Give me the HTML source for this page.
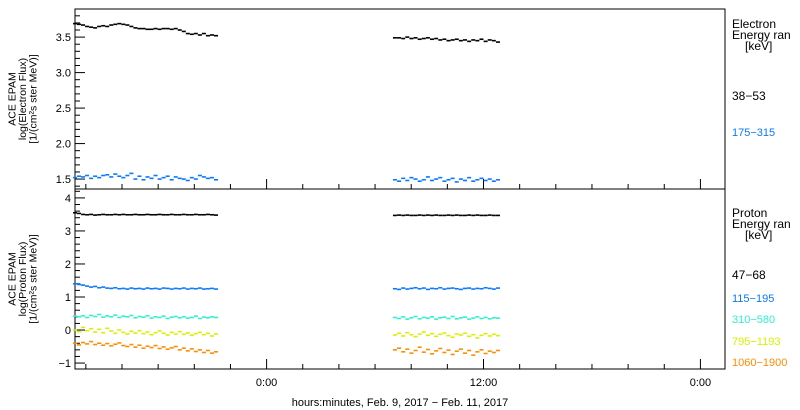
<!DOCTYPE html>
<html><head><meta charset="utf-8"><style>
body{margin:0;background:#fff;}
svg{display:block;font-family:"Liberation Sans",sans-serif;}
</style></head><body>
<svg id="chart" width="800" height="410" viewBox="0 0 800 410"></svg>
<script>
// time in hours relative to Feb 10 0:00
const xDomain = [-10.6, 25.36];
const seg1Range = [-10.6, -2.8];
const seg2Range = [7.1, 12.8];
const xTickHours = [0, 12, 24];
const xTickLabels = ["0:00", "12:00", "0:00"];
const topTicks = [1.5, 2.0, 2.5, 3.0, 3.5];
const topTickLabels = ["1.5", "2.0", "2.5", "3.0", "3.5"];
const botTicks = [-1, 0, 1, 2, 3, 4];
const botTickLabels = ["\u22121", "0", "1", "2", "3", "4"];

const e1s1 = [3.69,3.68,3.67,3.65,3.64,3.63,3.65,3.66,3.65,3.67,3.68,3.69,3.68,3.67,3.65,3.63,3.62,3.62,3.61,3.61,3.62,3.61,3.62,3.62,3.61,3.62,3.60,3.58,3.55,3.54,3.55,3.53,3.55,3.52,3.53,3.52];
const e1s2 = [3.49,3.49,3.48,3.50,3.48,3.49,3.47,3.48,3.49,3.47,3.48,3.46,3.47,3.45,3.46,3.47,3.45,3.46,3.44,3.46,3.45,3.47,3.44,3.46,3.45,3.43];
const e2s1 = [1.52,1.54,1.53,1.55,1.51,1.54,1.52,1.55,1.56,1.53,1.57,1.54,1.52,1.55,1.58,1.50,1.54,1.49,1.53,1.51,1.55,1.50,1.52,1.54,1.49,1.53,1.51,1.50,1.48,1.52,1.50,1.55,1.53,1.51,1.52,1.49];
const e2s2 = [1.49,1.47,1.51,1.48,1.52,1.50,1.47,1.49,1.53,1.48,1.50,1.52,1.47,1.49,1.51,1.46,1.50,1.48,1.52,1.47,1.49,1.51,1.48,1.50,1.47,1.49];
const p1s1 = [3.55,3.53,3.50,3.49,3.50,3.48,3.49,3.50,3.49,3.49,3.50,3.49,3.50,3.49,3.49,3.50,3.49,3.49,3.50,3.49,3.49,3.50,3.49,3.49,3.50,3.49,3.49,3.50,3.49,3.49,3.50,3.49,3.49,3.50,3.49,3.48];
const p1s2 = [3.47,3.48,3.47,3.48,3.47,3.47,3.48,3.47,3.48,3.47,3.48,3.47,3.47,3.48,3.47,3.48,3.47,3.47,3.48,3.47,3.48,3.47,3.47,3.48,3.47,3.47];
const p2s1 = [1.40,1.38,1.36,1.33,1.30,1.32,1.28,1.30,1.27,1.26,1.28,1.25,1.26,1.24,1.27,1.25,1.26,1.24,1.27,1.25,1.26,1.24,1.27,1.26,1.24,1.26,1.25,1.27,1.24,1.26,1.25,1.27,1.24,1.25,1.26,1.24];
const p2s2 = [1.25,1.23,1.27,1.24,1.26,1.28,1.25,1.27,1.23,1.26,1.25,1.28,1.24,1.26,1.27,1.25,1.23,1.26,1.27,1.24,1.26,1.25,1.28,1.26,1.24,1.27];
const p3s1 = [0.42,0.40,0.43,0.38,0.44,0.41,0.47,0.39,0.43,0.40,0.45,0.38,0.42,0.40,0.44,0.37,0.41,0.39,0.43,0.36,0.40,0.38,0.42,0.35,0.39,0.41,0.37,0.40,0.36,0.38,0.42,0.35,0.39,0.37,0.40,0.38];
const p3s2 = [0.38,0.35,0.40,0.33,0.37,0.41,0.34,0.38,0.36,0.40,0.33,0.37,0.39,0.35,0.41,0.34,0.37,0.39,0.33,0.36,0.40,0.35,0.38,0.34,0.37,0.36];
const p4s1 = [0.00,-0.05,0.08,-0.02,0.04,-0.06,0.02,-0.08,0.05,-0.03,-0.10,0.00,-0.07,-0.12,-0.04,-0.09,-0.02,-0.11,-0.06,-0.14,-0.08,-0.03,-0.10,-0.15,-0.07,-0.12,-0.05,-0.13,-0.09,-0.16,-0.11,-0.07,-0.14,-0.10,-0.18,-0.12];
const p4s2 = [-0.15,-0.10,-0.18,-0.08,-0.14,-0.20,-0.12,-0.06,-0.16,-0.11,-0.19,-0.13,-0.09,-0.17,-0.22,-0.12,-0.15,-0.10,-0.19,-0.14,-0.24,-0.16,-0.11,-0.18,-0.13,-0.17];
const p5s1 = [-0.40,-0.45,-0.38,-0.42,-0.35,-0.44,-0.40,-0.46,-0.41,-0.48,-0.43,-0.39,-0.47,-0.50,-0.44,-0.52,-0.46,-0.55,-0.49,-0.53,-0.47,-0.56,-0.51,-0.58,-0.54,-0.50,-0.60,-0.55,-0.63,-0.57,-0.65,-0.60,-0.68,-0.62,-0.70,-0.66];
const p5s2 = [-0.60,-0.55,-0.66,-0.58,-0.70,-0.62,-0.52,-0.67,-0.59,-0.72,-0.63,-0.56,-0.68,-0.61,-0.74,-0.64,-0.58,-0.70,-0.62,-0.76,-0.66,-0.60,-0.71,-0.64,-0.68,-0.62];

const NS = "http://www.w3.org/2000/svg";
const svg = document.getElementById("chart");
const L = 75, R = 725;
const topP = {y0: 9, y1: 189, d0: 3.896, d1: 1.36};
const botP = {y0: 189, y1: 369, d0: 4.27, d1: -1.18};
function xs(t){ return L + (t - xDomain[0]) / (xDomain[1] - xDomain[0]) * (R - L); }
function ys(p, v){ return p.y0 + (p.d0 - v) / (p.d0 - p.d1) * (p.y1 - p.y0); }
function el(tag, attrs, parent){ const e = document.createElementNS(NS, tag); for (const k in attrs) e.setAttribute(k, attrs[k]); (parent||svg).appendChild(e); return e; }

function series(p, vals, range, color, name){
  const g = el("g", {});
  
  
  const n = vals.length;
  for (let i = 0; i < n; i++){
    const t = range[0] + (range[1] - range[0]) * i / (n - 1);
    const r = el("rect", {x: xs(t) - 2, y: ys(p, vals[i]) - 0.8, width: 4, height: 1.6, fill: color}, g);
    
    
  }
}

const f1 = el("rect", {x: L, y: topP.y0, width: R - L, height: topP.y1 - topP.y0, fill: "none", stroke: "#000", "stroke-width": 1});


const f2 = el("rect", {x: L, y: botP.y0, width: R - L, height: botP.y1 - botP.y0, fill: "none", stroke: "#000", "stroke-width": 1});



for (let k = 14; k <= 38; k++){
  const v = k / 10;
  const y = ys(topP, v); const major = k % 5 === 0;
  el("line", {x1: L, x2: L + (major ? 10 : 5), y1: y, y2: y, stroke: "#000"});
}
topTicks.forEach((v, i) => {
  const t = el("text", {x: L - 4, y: ys(topP, v) + 4, "text-anchor": "end", "font-size": 11}); t.textContent = topTickLabels[i];
   
});
for (let k = -5; k <= 21; k++){
  const v = k / 5;
  const y = ys(botP, v); const major = k % 5 === 0;
  el("line", {x1: L, x2: L + (major ? 10 : 5), y1: y, y2: y, stroke: "#000"});
}
botTicks.forEach((v, i) => {
  const t = el("text", {x: L - 4, y: ys(botP, v) + 4, "text-anchor": "end", "font-size": 11}); t.textContent = botTickLabels[i];
   
});

for (let h = -10; h <= 25; h += 2){
  const x = xs(h); const major = h % 12 === 0;
  el("line", {x1: x, x2: x, y1: botP.y1, y2: botP.y1 - (major ? 10 : 5), stroke: "#000"});
  el("line", {x1: x, x2: x, y1: topP.y1, y2: topP.y1 - (major ? 10 : 5), stroke: "#000"});
}
xTickHours.forEach((h, i) => {
  const t = el("text", {x: xs(h), y: 386, "text-anchor": "middle", "font-size": 11}); t.textContent = xTickLabels[i];
   
});
const xt = el("text", {x: 400, y: 406, "text-anchor": "middle", "font-size": 11}); xt.textContent = "hours:minutes, Feb.  9, 2017 \u2212 Feb. 11, 2017";
 

function ytitle(cx, cy, lines, name){
  const g = el("g", {transform: `translate(${cx},${cy}) rotate(-90)`});
   
  lines.forEach((s, i) => { const t = el("text", {x: 0, y: (i - 1) * 10.5, "text-anchor": "middle", "font-size": 10.5}, g); t.textContent = s; });
}
ytitle(26, 99, ["ACE EPAM", "log(Electron Flux)", "[1/(cm\u00b2s ster MeV)]"], "electron-y-axis-title");
ytitle(26, 279, ["ACE EPAM", "log(Proton Flux)", "[1/(cm\u00b2s ster MeV)]"], "proton-y-axis-title");

series(topP, e1s1, seg1Range, "#000", "electron-38-53-seg1");
series(topP, e1s2, seg2Range, "#000", "electron-38-53-seg2");
series(topP, e2s1, seg1Range, "#0a78ff", "electron-175-315-seg1");
series(topP, e2s2, seg2Range, "#0a78ff", "electron-175-315-seg2");
series(botP, p1s1, seg1Range, "#000", "proton-47-68-seg1");
series(botP, p1s2, seg2Range, "#000", "proton-47-68-seg2");
series(botP, p2s1, seg1Range, "#0a78ff", "proton-115-195-seg1");
series(botP, p2s2, seg2Range, "#0a78ff", "proton-115-195-seg2");
series(botP, p3s1, seg1Range, "#30f0d0", "proton-310-580-seg1");
series(botP, p3s2, seg2Range, "#30f0d0", "proton-310-580-seg2");
series(botP, p4s1, seg1Range, "#d8f000", "proton-795-1193-seg1");
series(botP, p4s2, seg2Range, "#d8f000", "proton-795-1193-seg2");
series(botP, p5s1, seg1Range, "#ff8c00", "proton-1060-1900-seg1");
series(botP, p5s2, seg2Range, "#ff8c00", "proton-1060-1900-seg2");

const legend = [
  [732, 28, "Electron", "#000", 12, "legend-electron-title"],
  [732, 39, "Energy ran", "#000", 12, "legend-electron-energy"],
  [745, 50, "[keV]", "#000", 12, "legend-electron-unit"],
  [732, 100, "38\u221253", "#000", 12, "legend-entry-38-53"],
  [732, 136, "175\u2212315", "#0a78ff", 11, "legend-entry-175-315"],
  [732, 217, "Proton", "#000", 12, "legend-proton-title"],
  [732, 228, "Energy ran", "#000", 12, "legend-proton-energy"],
  [745, 239, "[keV]", "#000", 12, "legend-proton-unit"],
  [732, 279, "47\u221268", "#000", 12, "legend-entry-47-68"],
  [732, 302, "115\u2212195", "#0a78ff", 11, "legend-entry-115-195"],
  [732, 323, "310\u2212580", "#30f0d0", 11, "legend-entry-310-580"],
  [732, 345, "795\u22121193", "#d8f000", 11, "legend-entry-795-1193"],
  [732, 366, "1060\u22121900", "#ff8c00", 11, "legend-entry-1060-1900"]
];
legend.forEach(d => {
  const t = el("text", {x: d[0], y: d[1], fill: d[3], "font-size": d[4]}); t.textContent = d[2];
   
});
</script>
</body></html>
